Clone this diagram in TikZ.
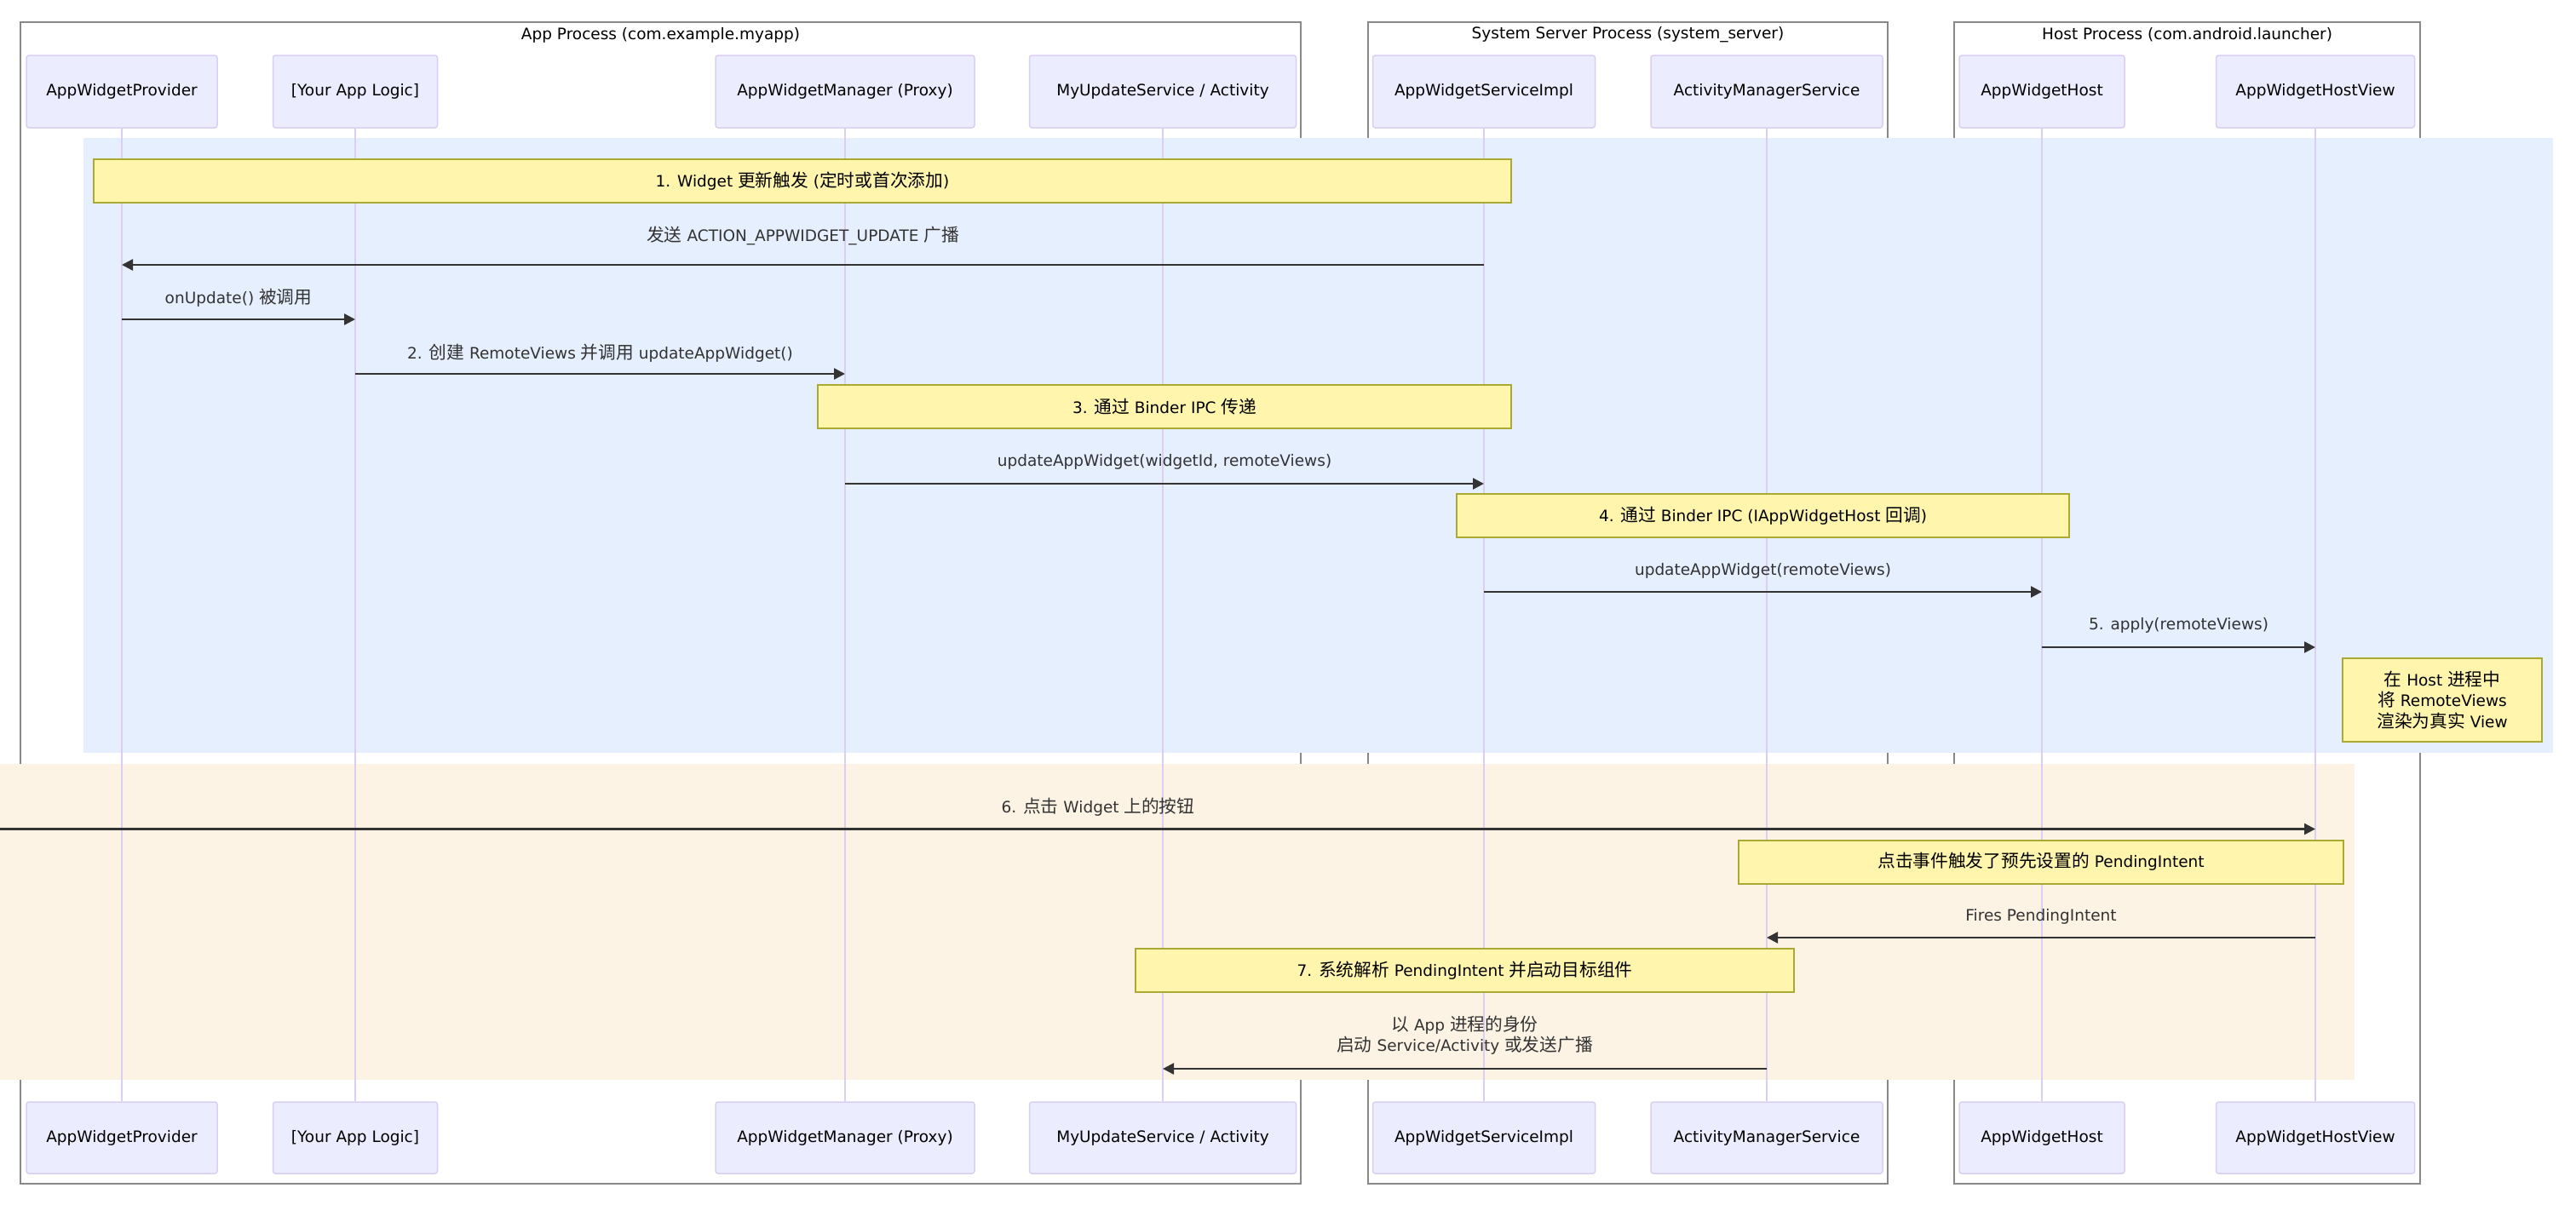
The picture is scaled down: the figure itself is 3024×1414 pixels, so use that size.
\documentclass[tikz,border=0pt]{standalone}
\usepackage{fontspec}
\setmainfont{DejaVu Sans}
\newfontfamily\cjk[Scale=1.12]{Noto Sans CJK SC}
\usetikzlibrary{arrows.meta}

\newcommand{\zh}[1]{{\cjk #1}}
\newcommand{\lbl}{\fontsize{18.5pt}{24.5pt}\selectfont}

\definecolor{actorfill}{HTML}{ECECFF}
\definecolor{actorline}{HTML}{DACEF3}
\definecolor{notefill}{HTML}{FFF5AD}
\definecolor{noteline}{HTML}{AAAA33}
\definecolor{msgcol}{HTML}{333333}
\definecolor{groupline}{HTML}{888888}
\definecolor{blueband}{HTML}{E6EFFE}
\definecolor{peachband}{HTML}{FDF3E5}

\begin{document}
\begin{tikzpicture}[x=1pt, y=-1pt, font=\lbl,
  actor/.style={draw=actorline, fill=actorfill, line width=1.5pt, rounded corners=3pt,
    minimum height=85pt, inner sep=0pt},
  lifeline/.style={draw=actorline, line width=2.2pt},
  note/.style={draw=noteline, fill=notefill, line width=2pt, inner sep=0pt,
    minimum height=51pt, align=center},
  msg/.style={draw=msgcol, line width=2.5pt, -{Triangle[length=13pt, width=13pt]}},
  msglbl/.style={text=msgcol, align=center},
  group/.style={draw=groupline, line width=1.5pt},
  grouptitle/.style={text=black, inner sep=0pt}]

\path[fill=white, use as bounding box] (0,0) rectangle (3024,1414);

% Processi (box)
\draw[group] (24,26) rectangle (1527,1390);
\node[grouptitle] (tapp) at (775.5,41) {App Process (com.example.myapp)};
\draw[group] (1606,26) rectangle (2216,1390);
\node[grouptitle] (tsys) at (1911,41) {System Server Process (system\_server)};
\draw[group] (2294,26) rectangle (2841,1390);
\node[grouptitle] (thost) at (2567.5,41) {Host Process (com.android.launcher)};

% Sfondi delle fasi
\fill[blueband] (98,162) rectangle (2997,884);
\fill[peachband] (0,897) rectangle (2764,1268);

% Partecipanti in alto e in basso, con linee di vita
\foreach \n/\x/\w/\t in {awp/143/224/AppWidgetProvider,
    logic/417/193/{[Your App Logic]},
    awm/992/304/{AppWidgetManager (Proxy)},
    svc/1365/313/{MyUpdateService / Activity},
    asi/1742/261/AppWidgetServiceImpl,
    ams/2074/272/ActivityManagerService,
    host/2397/194/AppWidgetHost,
    hview/2718/233/AppWidgetHostView} {
  \node[actor, minimum width=\w pt] (\n) at (\x,107.5) {\t};
  \node[actor, minimum width=\w pt, minimum height=84pt] (\n-b) at (\x,1336) {\t};
  \draw[lifeline] (\n.south) -- (\n-b.north);
}

% Righe dei messaggi
\coordinate (r1) at (0,311);
\coordinate (r2) at (0,375);
\coordinate (r3) at (0,439);
\coordinate (r4) at (0,568);
\coordinate (r5) at (0,695);
\coordinate (r6) at (0,760);
\coordinate (r7) at (0,973.5);
\coordinate (r8) at (0,1101);
\coordinate (r9) at (0,1255);
\coordinate (user) at (-140,973.5);

% Note
\node[note, minimum width=1664pt] (n1) at (942,212.5) {1. Widget \zh{更新触发} (\zh{定时或首次添加})};
\node[note, minimum width=814pt] (n3) at (1367,477.5) {3. \zh{通过} Binder IPC \zh{传递}};
\node[note, minimum width=719pt] (n4) at (2069.5,605.5) {4. \zh{通过} Binder IPC (IAppWidgetHost \zh{回调})};
\node[note, minimum width=234pt, minimum height=98pt] (n5) at (2867,822)
  {\zh{在} Host \zh{进程中}\\\zh{将} RemoteViews\\\zh{渲染为真实} View};
\node[note, minimum width=710pt] (n6) at (2396,1012) {\zh{点击事件触发了预先设置的} PendingIntent};
\node[note, minimum width=773pt] (n7) at (1719.5,1139.5) {7. \zh{系统解析} PendingIntent \zh{并启动目标组件}};

% Messaggi
\draw[msg] (asi |- r1) -- node[msglbl, yshift=34pt] {\zh{发送} ACTION\_APPWIDGET\_UPDATE \zh{广播}} (awp |- r1);
\draw[msg] (awp |- r2) -- node[msglbl, yshift=25pt] {onUpdate() \zh{被调用}} (logic |- r2);
\draw[msg] (logic |- r3) -- node[msglbl, yshift=24pt] {2. \zh{创建} RemoteViews \zh{并调用} updateAppWidget()} (awm |- r3);
\draw[msg] (awm |- r4) -- node[msglbl, yshift=26pt] {updateAppWidget(widgetId, remoteViews)} (asi |- r4);
\draw[msg] (asi |- r5) -- node[msglbl, yshift=25pt] {updateAppWidget(remoteViews)} (host |- r5);
\draw[msg] (host |- r6) -- node[msglbl, yshift=26pt] {5. apply(remoteViews)} (hview |- r6);
\draw[msg] (user) -- node[msglbl, yshift=25.5pt] {6. \zh{点击} Widget \zh{上的按钮}} (hview |- r7);
\draw[msg] (hview |- r8) -- node[msglbl, yshift=25pt] {Fires PendingIntent} (ams |- r8);
\draw[msg] (ams |- r9) -- node[msglbl, yshift=39.5pt]
  {\zh{以} App \zh{进程的身份}\\\zh{启动} Service/Activity \zh{或发送广播}} (svc |- r9);

\end{tikzpicture}
\end{document}
